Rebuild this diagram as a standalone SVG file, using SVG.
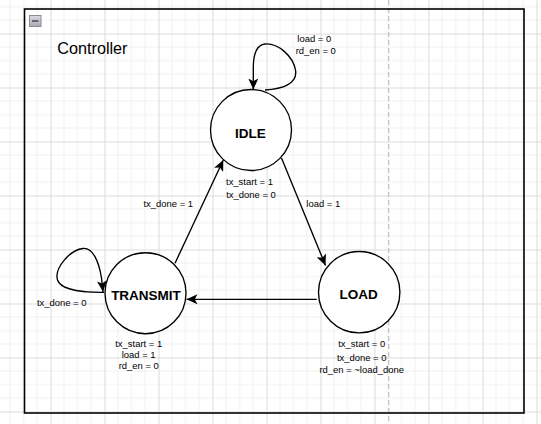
<svg xmlns="http://www.w3.org/2000/svg" width="541" height="424" viewBox="0 0 541 424">
  <defs>
    <pattern id="grid" width="54" height="54" patternUnits="userSpaceOnUse" x="50.5" y="33.5">
      <path d="M13.5 0V54M27 0V54M40.5 0V54M0 13.5H54M0 27H54M0 40.5H54" fill="none" stroke="#f0f0f0" stroke-width="1"/>
      <path d="M0.5 0V54M0 0.5H54" fill="none" stroke="#dadada" stroke-width="1"/>
    </pattern>
    <linearGradient id="btn" x1="0" y1="0" x2="0" y2="1">
      <stop offset="0" stop-color="#dcdce4"/>
      <stop offset="1" stop-color="#a8a8b2"/>
    </linearGradient>
    <marker id="arrow" markerUnits="userSpaceOnUse" markerWidth="11" markerHeight="10" viewBox="0 0 11 10" refX="11" refY="5" orient="auto">
      <path d="M0,0 L11,5 L0,10 L2.75,5 Z" fill="#000"/>
    </marker>
  </defs>
  <style>
    .state { fill: #fff; stroke: #000; stroke-width: 1.35; }
    .edge { fill: none; stroke: #000; stroke-width: 1.35; marker-end: url(#arrow); }
    .name { font-family: "Liberation Sans", Arial, sans-serif; font-size: 13.5px; font-weight: bold; text-anchor: middle; fill: #000; }
    .lbl { font-family: "Liberation Sans", Arial, sans-serif; font-size: 9.45px; text-anchor: middle; fill: #000; }
  </style>
  <rect width="541" height="424" fill="#fff"/>
  <rect width="541" height="424" fill="url(#grid)"/>
  <line x1="388.7" y1="0" x2="388.7" y2="424" stroke="#c4c4c4" stroke-width="1.3" stroke-dasharray="5,3"/>

  <g id="controller">
    <rect x="24.5" y="9" width="499.5" height="404" fill="none" stroke="#000" stroke-width="1.6"/>
    <rect x="29.5" y="15.5" width="11.5" height="11" fill="url(#btn)" stroke="#8c8c96" stroke-width="1"/>
    <line x1="32" y1="21" x2="38.5" y2="21" stroke="#505058" stroke-width="1.6"/>
    <text x="57.3" y="53.5" font-family="Liberation Sans, Arial, sans-serif" font-size="16.2" fill="#000">Controller</text>
  </g>

  <g id="connectors">
    <path class="edge" d="M265 90 C282 89 298 84 295.5 70 C293 56 278 43 265 44 C256 45 253.3 55 253.3 68 L253.3 89.5"/>
    <path class="edge" d="M281.5 158 L325.5 265.5"/>
    <path class="edge" d="M316.7 299.3 L186.5 299.3"/>
    <path class="edge" d="M175 263.3 L223.3 160"/>
    <path class="edge" d="M104 292.3 C88 292.5 61 291 57.5 280 C54 268 70 250 83 248.5 C93 247.5 99 262 101.5 278 L103 291.7"/>
  </g>

  <g id="idle">
    <circle class="state" cx="251" cy="130" r="40.5"/>
    <text class="name" x="250.5" y="137.5">IDLE</text>
    <text class="lbl" x="249.5" y="185">tx_start = 1</text>
    <text class="lbl" x="251" y="198.3">tx_done = 0</text>
  </g>

  <g id="load">
    <circle class="state" cx="359.2" cy="292.2" r="40.7"/>
    <text class="name" x="358.7" y="299.3">LOAD</text>
    <text class="lbl" x="361.7" y="346.7">tx_start = 0</text>
    <text class="lbl" x="361.7" y="360.7">tx_done = 0</text>
    <text class="lbl" x="361.7" y="372.7">rd_en = ~load_done</text>
  </g>

  <g id="transmit">
    <circle class="state" cx="145.5" cy="293.2" r="40.5"/>
    <text class="name" x="146" y="300">TRANSMIT</text>
    <text class="lbl" x="138.7" y="346.7">tx_start = 1</text>
    <text class="lbl" x="138.7" y="357.7">load = 1</text>
    <text class="lbl" x="138.8" y="369.3">rd_en = 0</text>
  </g>

  <g id="edge-labels">
    <text class="lbl" x="314.3" y="42">load = 0</text>
    <text class="lbl" x="315.8" y="53.5">rd_en = 0</text>
    <text class="lbl" x="168.3" y="206.7">tx_done = 1</text>
    <text class="lbl" x="323.3" y="206.7">load = 1</text>
    <text class="lbl" x="61.7" y="306">tx_done = 0</text>
  </g>
</svg>
